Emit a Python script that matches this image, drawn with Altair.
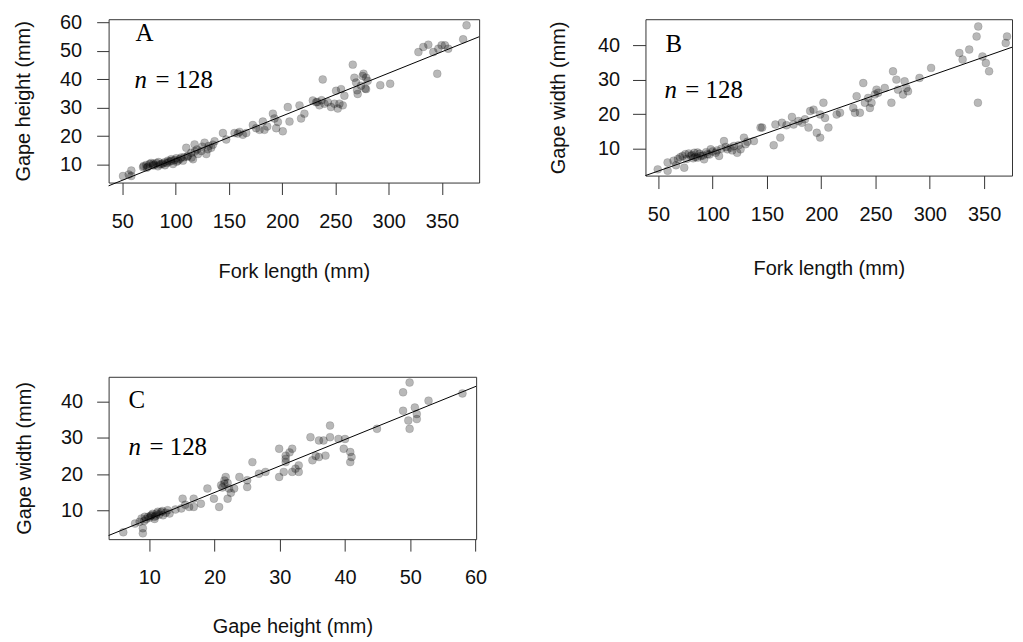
import altair as alt
import pandas as pd

# ---- Panel A: fork length vs gape height ----
a_fl = [50.6, 58.4, 58.4, 56, 69.4, 72.5, 75.6, 78.8, 81.9, 83.4, 86.6, 89.7, 92.8, 95.9, 97.5, 100.6, 102.2, 105.3, 106.9,
        70, 74, 77, 80, 84, 88, 90, 94, 99, 104, 108, 73, 79, 85, 92, 96, 101, 111, 115,
        110.0, 111.6, 114.7, 116.3, 117.8, 121.0, 124.1, 127.2, 128.8, 130.3, 133.4, 136.6, 120, 125, 118, 131, 135,
        144.4, 147.5, 155.3, 158.4, 163.1, 166.3, 160,
        172.5, 175.6, 178.8, 181.9, 183.4, 191.3, 192.8, 194.4, 200.6, 186, 196,
        205.3, 206.9, 216.3, 217.8, 220.9,
        228.8, 231.9, 235.0, 238.1, 239.7, 242.8, 245.9, 249.1, 252.2, 253.8, 250.6, 255.3, 258.4, 256.9, 233, 237,
        266.3, 267.8, 269.4, 270.9, 274.1, 275.6, 278.8, 278.8, 280.3, 270.3, 276.4, 278.0,
        292.1, 301.4,
        327.9, 332.5, 337.2, 341.9, 345.6, 346.6, 349.7, 352.8, 355.9, 369.9, 373.1]
a_gh = [6.0, 7.9, 6.0, 6.5, 9.1, 9.9, 10.2, 9.7, 10.6, 9.4, 10.2, 10.8, 11.4, 11.9, 10.2, 12.2, 11.4, 12.5, 11.4,
        9.5, 9.3, 10.6, 9.9, 10.9, 10.4, 9.8, 11.0, 11.6, 12.0, 12.6, 8.9, 10.3, 10.0, 10.6, 11.3, 11.0, 12.8, 12.5,
        15.9, 13.1, 14.2, 11.9, 17.1, 13.7, 14.8, 17.7, 13.7, 15.4, 15.9, 18.2, 15.3, 16.3, 14.6, 16.5, 17.0,
        21.1, 18.8, 21.1, 20.9, 20.5, 21.1, 21.5,
        23.9, 22.8, 22.2, 25.1, 22.2, 27.9, 26.2, 22.8, 21.7, 23.4, 25.0,
        30.2, 25.1, 30.8, 26.2, 27.9,
        32.5, 31.9, 30.8, 39.9, 31.4, 31.9, 30.2, 31.4, 29.7, 31.4, 35.9, 36.5, 34.2, 30.8, 32.0, 32.6,
        45.1, 40.5, 38.8, 34.8, 37.7, 41.1, 40.5, 36.5, 39.4, 36.1, 41.9, 36.7,
        37.9, 38.4,
        49.5, 51.3, 52.1, 49.5, 41.9, 50.7, 51.9, 51.9, 50.7, 54.0, 58.9]

# ---- Panel B: fork length vs gape width ----
b_fl = [49.4, 58.5, 58.5, 66.2, 73.8, 72.3, 74.8, 79.9, 83, 86, 89.1, 92.1, 95.2, 98.2, 102.8, 105.9, 110.4, 113.5, 116.5,
        119.6, 122.6, 125.7, 128.8, 130.3, 138,
        70, 76, 78, 81, 84, 88, 91, 94, 97, 100, 104, 108, 112, 118, 82, 86, 64, 68, 124, 132,
        144.1, 145.6, 156.2, 157.8, 162.3, 163.8, 173, 174.5, 179.1, 182.2, 188.3, 189.8, 192.9, 195.9, 199, 202, 199,
        203.5, 206.6, 214.2, 217.3, 168, 185,
        229.5, 231.1, 232.6, 235.6, 238.7, 240.2, 243.2, 244.8, 246.3, 249.3, 250.9, 252.4, 258.5, 264.6, 266.1, 269.2,
        270.7, 275.3, 276.8, 278.4, 279.9, 290.5, 301.2,
        327.2, 330.2, 336.3, 344.3, 344.6, 343.1, 348.5, 351.6, 354.6, 369.9, 371.1]
b_gw = [4.0, 6.0, 3.6, 5.2, 4.5, 7.9, 8.4, 7.9, 8.8, 7.4, 7.9, 6.9, 8.4, 9.8, 8.8, 7.9, 12.2, 9.8, 10.3,
        10.8, 8.8, 9.8, 13.2, 11.3, 12.2,
        7.5, 7.0, 8.6, 8.2, 7.6, 8.5, 8.0, 9.0, 8.3, 9.2, 9.5, 10.0, 10.5, 9.5, 7.2, 8.9, 6.5, 7.0, 11.0, 12.0,
        16.1, 16.1, 11.0, 17.0, 13.2, 17.5, 19.2, 17.0, 18.0, 17.5, 16.1, 20.9, 21.3, 14.6, 13.2, 23.3, 19.9,
        18.9, 16.1, 19.9, 20.4, 16.8, 18.5,
        21.8, 20.4, 25.2, 20.4, 29.0, 23.3, 24.7, 21.8, 23.3, 25.7, 27.1, 26.2, 27.6, 23.3, 32.4, 30.0,
        27.1, 25.7, 29.5, 27.6, 26.6, 30.5, 33.4,
        37.7, 35.8, 38.7, 23.3, 45.4, 42.5, 36.7, 34.8, 32.4, 40.6, 42.5]

# ---- Panel C: gape height vs gape width ----
c_gh = [6.0, 7.8, 9.0, 9.0, 8.8, 9.3, 9.8, 10.3, 10.8, 11.1, 11.8, 12.1, 12.8, 13.1,
        9.5, 10.0, 10.5, 11.0, 11.5, 12.0, 10.2, 9.2, 11.3, 12.5, 8.5, 10.8,
        14.9, 15.1, 16.1, 16.8, 16.8, 17.9, 18.9, 19.9, 20.7, 21.0, 21.5, 21.7, 22.0, 22.2, 23.0, 23.8, 25.0, 25.0,
        25.8, 26.8, 27.8, 21.5, 22.0, 21.2, 22.5, 14.0, 15.5,
        29.9, 29.9, 30.6, 30.9, 30.9, 31.9, 31.9, 32.4, 32.9, 32.9, 30.9, 31.5,
        34.7, 35.0, 36.0, 36.0, 36.7, 37.0, 37.7, 37.7, 39.0, 39.8, 40.0, 40.8, 41.0, 40.8, 35.5,
        44.9, 48.9, 48.9, 49.9, 49.7, 49.9, 50.7, 51.0, 51.0, 52.8, 58.0]
c_gw = [3.9, 6.3, 3.6, 5.0, 7.7, 8.2, 8.2, 8.6, 8.2, 9.1, 9.5, 8.6, 10.0, 9.1,
        7.5, 7.9, 9.0, 8.5, 8.8, 9.8, 8.4, 7.0, 9.6, 9.3, 6.8, 7.6,
        10.5, 13.2, 10.9, 13.2, 10.9, 11.8, 16.0, 13.2, 10.9, 16.9, 17.3, 19.2, 13.2, 16.0, 16.0, 19.2, 18.3, 16.4,
        23.3, 20.1, 20.6, 18.2, 17.5, 16.3, 14.8, 10.2, 11.5,
        19.2, 27.0, 20.6, 25.1, 23.3, 27.0, 20.6, 21.5, 22.4, 20.6, 24.2, 26.0,
        30.2, 23.8, 29.3, 24.7, 29.3, 25.1, 33.4, 30.2, 29.7, 27.0, 29.7, 26.1, 24.7, 23.3, 25.0,
        32.5, 42.6, 37.5, 45.3, 34.8, 32.5, 38.4, 36.6, 35.2, 40.3, 42.3]

SANS = "Liberation Sans"
SERIF = "Liberation Serif"


def panel(xs, ys, xdom, ydom, xticks, yticks, w, h, xtitle, ytitle, letter,
          letter_xy, n_xy, eq_x, xax, yax):
    df = pd.DataFrame({"x": xs, "y": ys})
    xs_ = alt.Scale(domain=xdom, nice=False, zero=False)
    ys_ = alt.Scale(domain=ydom, nice=False, zero=False)
    xaxis = alt.Axis(values=xticks, tickCount=50, title=xtitle, tickSize=xax[0],
                     labelPadding=xax[1], titlePadding=xax[2])
    yaxis = alt.Axis(values=yticks, tickCount=50, title=ytitle, tickSize=yax[0],
                     labelPadding=yax[1], titlePadding=yax[2])
    base = alt.Chart(df)
    pts = base.mark_circle(size=64, color="black", fillOpacity=0.28, stroke="black",
                           strokeOpacity=0.12, strokeWidth=1).encode(
        x=alt.X("x:Q", scale=xs_, axis=xaxis),
        y=alt.Y("y:Q", scale=ys_, axis=yaxis),
    )
    line = base.transform_regression("x", "y", extent=list(xdom)).mark_line(
        color="black", strokeWidth=1).encode(x="x:Q", y="y:Q")
    t_letter = alt.Chart(pd.DataFrame({"t": [letter]})).mark_text(
        font=SERIF, fontSize=25, align="left", baseline="alphabetic", color="black").encode(
        x=alt.value(letter_xy[0]), y=alt.value(letter_xy[1]), text="t:N")
    t_n = alt.Chart(pd.DataFrame({"t": ["n"]})).mark_text(
        font=SERIF, fontSize=25, fontStyle="italic", align="left", baseline="alphabetic",
        color="black").encode(x=alt.value(n_xy[0]), y=alt.value(n_xy[1]), text="t:N")
    t_eq = alt.Chart(pd.DataFrame({"t": ["= 128"]})).mark_text(
        font=SERIF, fontSize=25, align="left", baseline="alphabetic", color="black").encode(
        x=alt.value(eq_x), y=alt.value(n_xy[1]), text="t:N")
    return alt.layer(pts, line, t_letter, t_n, t_eq).properties(width=w, height=h)


A = panel(a_fl, a_gh, [37.1, 384.9], [3.7, 61.05], [50, 100, 150, 200, 250, 300, 350],
          [10, 20, 30, 40, 50, 60], 372, 164, "Fork length (mm)", "Gape height (mm)", "A",
          (27, 22), (26, 69), 47, (12, 17, 30), (12, 15, 26))
B = panel(b_fl, b_gw, [38.1, 375.7], [2.2, 47.5], [50, 100, 150, 200, 250, 300, 350],
          [10, 20, 30, 40], 368, 157, "Fork length (mm)", "Gape width (mm)", "B",
          (20, 33), (19, 79), 40, (13, 16, 34), (13, 13, 29))
C = panel(c_gh, c_gw, [3.75, 60.1], [2.0, 46.9], [10, 20, 30, 40, 50, 60],
          [10, 20, 30, 40], 369, 163, "Gape height (mm)", "Gape width (mm)", "C",
          (20, 31), (20, 79), 41, (12, 17, 29), (12, 14, 26))

top = alt.hconcat(A, B, spacing=167, bounds="flush")
chart = alt.vconcat(top, C, spacing=359, bounds="flush").configure(
    padding={"left": 5, "top": 2, "right": 0, "bottom": 0},
    background="white",
).configure_view(stroke="#333", strokeWidth=1).configure_axis(
    labelFont=SANS, titleFont=SANS, labelFontSize=20, titleFontSize=20,
    titleFontWeight="normal", labelColor="#111", titleColor="#111", tickColor="#333",
    domain=False, grid=False, labelFlush=False, labelOverlap=False,
)

chart.save("out.html", embed_options={"renderer": "svg", "actions": False})
